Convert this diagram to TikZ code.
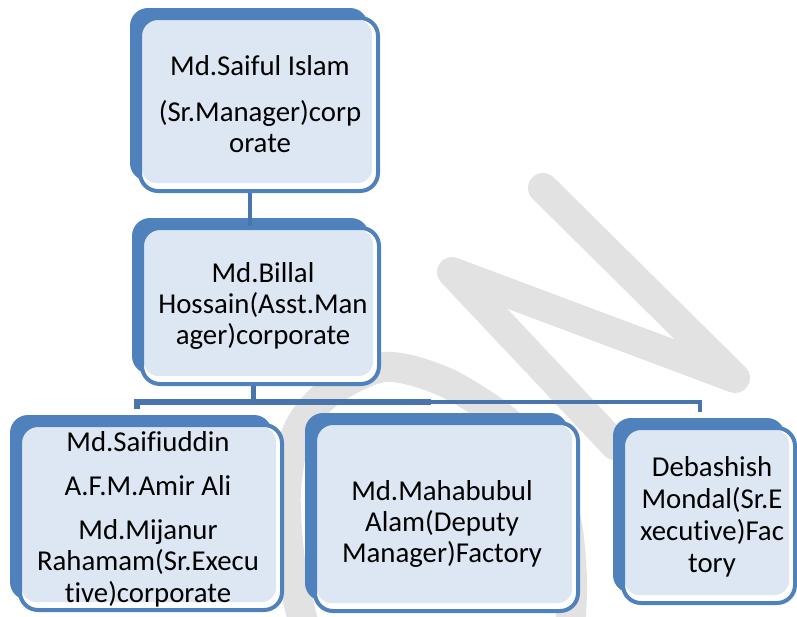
\documentclass[tikz,border=0pt]{standalone}
\usepackage{fontspec}
\setmainfont{Carlito}[Ligatures={NoCommon}]
\usetikzlibrary{shadows,calc}
\definecolor{boxblue}{HTML}{4F81BD}
\definecolor{connblue}{HTML}{4876AC}
\definecolor{dotfill}{HTML}{DDE7F3}
\definecolor{wmgray}{HTML}{E2E2E2}
\begin{document}
\begin{tikzpicture}[x=1pt,y=-1pt,
  orgbox/.style={draw=boxblue, line width=4pt, fill=white, rounded corners=18pt, inner sep=0pt,
    general shadow={fill=boxblue, shadow xshift=-10pt, shadow yshift=10pt},
    path picture={\fill[dotfill, rounded corners=14pt]
      ([xshift=2pt,yshift=-2pt]path picture bounding box.north west) rectangle
      ([xshift=-6pt,yshift=8pt]path picture bounding box.south east);}},
  txt/.style={align=center, inner sep=0pt, font=\fontsize{28.8}{31}\selectfont},
  conn/.style={draw=connblue, line width=3.5pt},
  wm/.style={draw=wmgray, line width=30pt, line cap=round, line join=round}]
\useasboundingbox (0,0) rectangle (797,616);
\clip (0,0) rectangle (797,616);
% watermark
\draw[wm] (615,445) -- (452,272) -- (735,378) -- (543,188);
\draw[wm] plot[smooth] coordinates {(305,630) (290,560) (286,490) (298,430) (330,392) (385,367) (445,382) (505,420) (545,465) (566,520) (572,580) (570,630)};
% junction coordinates
\coordinate (j) at (253,402);
\coordinate (l3) at (137,409);
\coordinate (l4) at (431,402);
\coordinate (l5) at (700,412);
% boxes
\node[orgbox, minimum width=238pt, minimum height=173pt] (b1) at (259,104.5) {};
\node[orgbox, minimum width=237pt, minimum height=156pt] (b2) at (260.5,306) {};
\node[orgbox, minimum width=262pt, minimum height=185pt] (b3) at (151,517.5) {};
\node[orgbox, minimum width=263pt, minimum height=188pt] (b4) at (446.5,517) {};
\node[orgbox, minimum width=172pt, minimum height=175pt] (b5) at (709,515.5) {};
% connectors
\draw[conn] ([xshift=-9pt]b1.south) -- ([xshift=-9pt]b1.south |- b2.north);
\draw[conn, line width=5pt] (b2.south -| j) -- (j);
\draw[conn, line width=6pt] (l4) -- (j -| l3) -- (l3);
\draw[conn, line width=4.5pt] (j) -- (j -| l5) -- (l5);
% texts
\node[txt] (t1) at (260,104) {Md.Saiful Islam\\[15pt](Sr.Manager)corp\\orate};
\node[txt] (t2) at (263,306) {Md.Billal\\Hossain(Asst.Man\\ager)corporate};
\node[txt] (t3) at (148,519) {Md.Saifiuddin\\[13pt]A.F.M.Amir Ali\\[13pt]Md.Mijanur\\Rahamam(Sr.Execu\\[1pt]tive)corporate};
\node[txt] (t4) at (442,524) {Md.Mahabubul\\Alam(Deputy\\Manager)Factory};
\node[txt] (t5) at (712,517) {Debashish\\[1pt]Mondal(Sr.E\\[1pt]xecutive)Fac\\[1pt]tory};
\end{tikzpicture}
\end{document}
